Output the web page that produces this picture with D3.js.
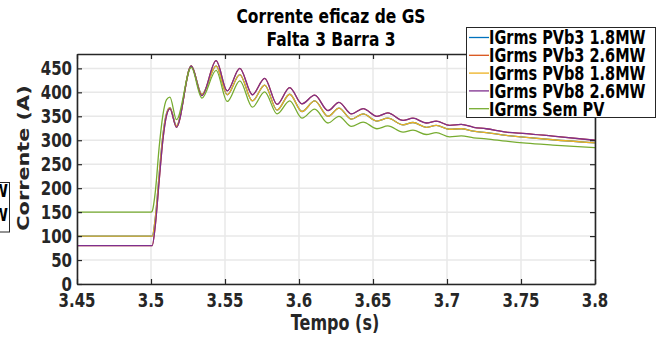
<!DOCTYPE html>
<html><head><meta charset="utf-8">
<script src="https://cdn.jsdelivr.net/npm/d3@7"></script>
<style>
html,body{margin:0;padding:0;background:#fff;}
svg{display:block;font-family:"DejaVu Sans",Verdana,sans-serif;font-weight:bold;}
</style></head>
<body><svg id="c" width="665" height="340"></svg>
<script>
// ---- data ----
const time = [3.45, 3.5, 3.5008, 3.503, 3.5055, 3.508, 3.5105, 3.5128, 3.5172, 3.5272, 3.5344, 3.544, 3.5515, 3.56, 3.5685, 3.5768, 3.5852, 3.5937, 3.602, 3.6106, 3.6196, 3.627, 3.6354, 3.6433, 3.6527, 3.66, 3.6703, 3.677, 3.686, 3.6927, 3.7018, 3.7096, 3.718, 3.7265, 3.74, 3.7535, 3.7715, 3.8];
const pvb3_18 = [100, 100, 100, 140, 228, 310, 356, 368, 330, 455, 396, 455, 395, 437, 382, 415, 363, 396, 360, 382, 350, 367, 344, 355, 340, 346, 332, 337, 327, 331, 323, 324, 319, 316, 310, 306, 301, 294.5];
const pvb3_26 = [80, 80, 80, 125, 215, 300, 352, 366, 327, 455, 393, 466, 403, 450, 395, 429, 375, 410, 376, 394, 362, 379, 355, 366, 350, 357, 341.5, 346, 336, 340, 331, 333, 327, 324, 317, 314, 308.5, 300];
const pvb8_18 = [100, 100, 100, 140, 228, 310, 356, 368, 330, 455, 396, 455, 395, 437, 382, 415, 363, 396, 360, 382, 350, 367, 344, 355, 340, 346, 332, 337, 327, 331, 323, 324, 319, 316, 310, 306, 301, 294.5];
const pvb8_26 = [80, 80, 80, 125, 215, 300, 352, 366, 327, 455, 393, 466, 403, 450, 395, 429, 375, 410, 376, 394, 362, 379, 355, 366, 350, 357, 341.5, 346, 336, 340, 331, 333, 327, 324, 317, 314, 308.5, 300];
const semPV   = [150, 150, 152, 195, 285, 352, 385, 390, 343, 452, 388, 446, 381, 424, 369, 401, 355, 382, 346, 365, 336, 350, 329, 338, 324, 330, 317, 321, 312, 316, 307, 309, 305, 303, 298, 294, 290, 284.5];
const seriesNames = ["IGrms PVb3 1.8MW", "IGrms PVb3 2.6MW", "IGrms PVb8 1.8MW", "IGrms PVb8 2.6MW", "IGrms Sem PV"];
const seriesColors = ["#0072BD", "#D95319", "#EDB120", "#7E2F8E", "#77AC30"];
const xTicks = [3.45, 3.5, 3.55, 3.6, 3.65, 3.7, 3.75, 3.8];
const yTicks = [0, 50, 100, 150, 200, 250, 300, 350, 400, 450];
const titleLines = ["Corrente eficaz de GS", "Falta 3 Barra 3"];
const xLabel = "Tempo (s)";
const yLabel = "Corrente (A)";

// ---- layout ----
const L = 77, R = 595, T = 54, B = 284;
const SY = 1.3; // vertical stretch of glyphs seen in the reference
const svg = d3.select("#c");
const x = d3.scaleLinear().domain([3.45, 3.8]).range([L, R]);
const y = d3.scaleLinear().domain([0, 480]).range([B, T]);
const series = [pvb3_18, pvb3_26, pvb8_18, pvb8_26, semPV];

function stext(px, py, str, size, anchor, fill, rot) {
  return svg.append("text")
    .attr("transform", `translate(${px},${py}) scale(1,${SY})` + (rot ? ` rotate(${rot})` : ""))
    .attr("text-anchor", anchor).style("font-size", size + "px")
    .attr("fill", fill || "#262626").text(str);
}

// grid
const grid = svg.append("g").attr("stroke", "#e8e8e8").attr("stroke-width", 1.5);
xTicks.forEach(t => grid.append("line").attr("x1", x(t)).attr("x2", x(t)).attr("y1", T).attr("y2", B));
yTicks.forEach(t => grid.append("line").attr("x1", L).attr("x2", R).attr("y1", y(t)).attr("y2", y(t)));

// lines
const line = d3.line().x((d, i) => x(time[i])).y(d => y(d)).curve(d3.curveMonotoneX);
series.forEach((s, k) => {
  svg.append("path").datum(s).attr("d", line).attr("fill", "none")
    .attr("stroke", seriesColors[k]).attr("stroke-width", 1.3);
});

// axes (ticks via d3 axes, labels drawn stretched)
const axCol = "#262626";
const xb = svg.append("g").attr("transform", `translate(0,${B})`)
  .call(d3.axisBottom(x).tickValues(xTicks).tickSizeInner(-5).tickSizeOuter(0).tickFormat(""));
const yl = svg.append("g").attr("transform", `translate(${L},0)`)
  .call(d3.axisLeft(y).tickValues(yTicks).tickSizeInner(-5).tickSizeOuter(0).tickFormat(""));
const xt = svg.append("g").attr("transform", `translate(0,${T})`)
  .call(d3.axisTop(x).tickValues(xTicks).tickSizeInner(-5).tickSizeOuter(0).tickFormat(""));
const yr = svg.append("g").attr("transform", `translate(${R},0)`)
  .call(d3.axisRight(y).tickValues(yTicks).tickSizeInner(-5).tickSizeOuter(0).tickFormat(""));
[xb, yl, xt, yr].forEach(g => {
  g.select(".domain").attr("stroke", axCol).attr("stroke-width", 1.6);
  g.selectAll(".tick line").attr("stroke", axCol).attr("stroke-width", 1.2);
});
const tickFs = 15;
const capH = tickFs * 0.73 * SY;
xTicks.forEach(t => stext(x(t), 307, String(t), tickFs, "middle"));
yTicks.forEach(t => stext(L - 5, y(t) + capH / 2, String(t), tickFs, "end"));

// titles
stext(331, 22.5, titleLines[0], 15.5, "middle", "#000");
stext(331, 45.5, titleLines[1], 15.5, "middle", "#000");
stext(335, 330, xLabel, 16, "middle");
stext(29, 158, yLabel, 16, "middle", "#262626", -90);

// legend
const lg = svg.append("g");
lg.append("rect").attr("x", 466.5).attr("y", 27.5).attr("width", 189).attr("height", 90)
  .attr("fill", "#fff").attr("stroke", "#262626").attr("stroke-width", 1);
const lgFs = 14.5;
seriesNames.forEach((n, k) => {
  const yy = 37.5 + k * 17.8;
  lg.append("line").attr("x1", 469).attr("x2", 489).attr("y1", yy).attr("y2", yy)
    .attr("stroke", seriesColors[k]).attr("stroke-width", 1.3);
  stext(489, yy + lgFs * 0.73 * SY / 2, n, lgFs, "start", "#000");
});

// clipped stray legend at left edge
svg.append("rect").attr("x", -60).attr("y", 182.5).attr("width", 69.5).attr("height", 49.5)
  .attr("fill", "#fff").attr("stroke", "#262626").attr("stroke-width", 1);
stext(8, 197, "MW", 14, "end", "#000");
stext(8, 221, "MW", 14, "end", "#000");
</script></body></html>
